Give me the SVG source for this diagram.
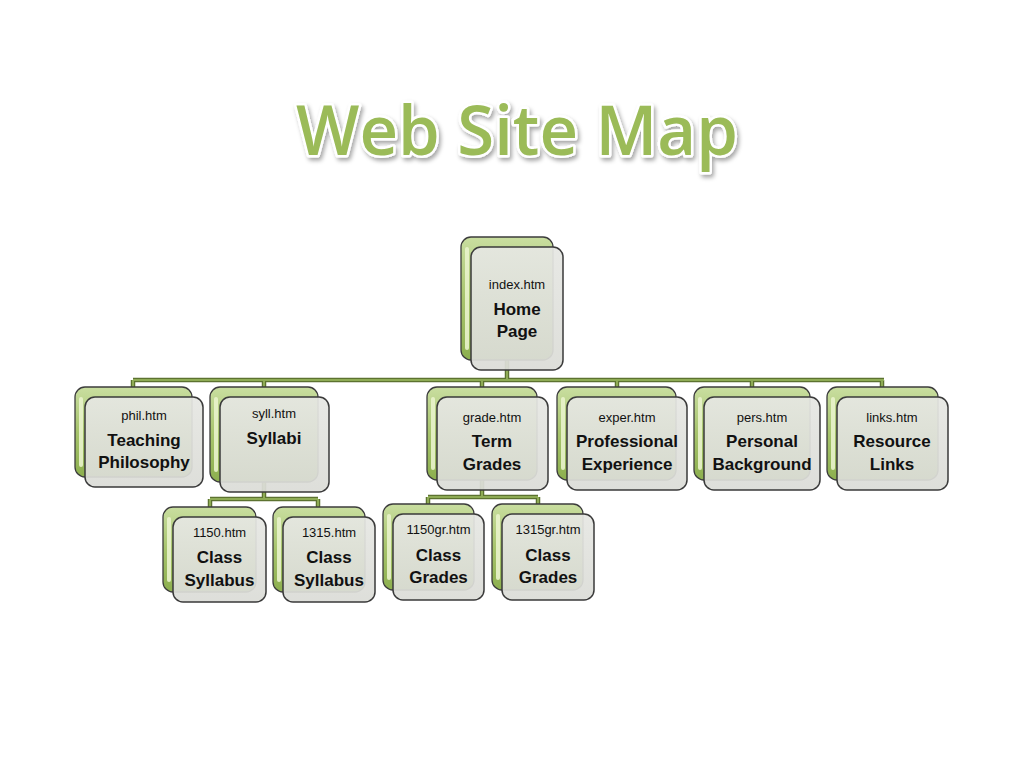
<svg xmlns="http://www.w3.org/2000/svg" width="1024" height="768" viewBox="0 0 1024 768">
<defs>
<linearGradient id="gGreen" x1="0" y1="0" x2="0" y2="1">
<stop offset="0" stop-color="#c9dea0"/>
<stop offset="0.5" stop-color="#a7c46c"/>
<stop offset="1" stop-color="#8caf4e"/>
</linearGradient>
<linearGradient id="gGrey" x1="0" y1="0" x2="0" y2="1">
<stop offset="0" stop-color="#e6e7e3"/>
<stop offset="1" stop-color="#dbdcd7"/>
</linearGradient>
<filter id="shadow" x="-10%" y="-20%" width="120%" height="150%">
<feDropShadow dx="2" dy="3" stdDeviation="2" flood-color="#000" flood-opacity="0.35"/>
</filter>
</defs>
<style>
.back{fill:url(#gGreen);stroke:#3c3c3c;stroke-width:1.3}
.stripe{fill:#e9f3cc;opacity:0.9}
.front{fill:url(#gGrey);fill-opacity:0.93;stroke:#3a3a3a;stroke-width:1.5}
.lnO{fill:none;stroke:#5c7230;stroke-width:4.5}
.lnI{fill:none;stroke:#8eab55;stroke-width:2}
.file{font-family:"Liberation Sans",Arial,sans-serif;font-size:13px;fill:#111;text-anchor:middle}
.name{font-family:"Liberation Sans",Arial,sans-serif;font-size:17px;font-weight:bold;fill:#111;text-anchor:middle}
.title{font-family:"Open Sans","Liberation Sans",sans-serif;font-size:68px;font-weight:600;fill:#9bbb59;stroke:#ffffff;stroke-width:5;paint-order:stroke;stroke-linejoin:round}
</style>
<rect width="1024" height="768" fill="#ffffff"/>
<text class="title" x="517" y="155" text-anchor="middle" textLength="442" lengthAdjust="spacingAndGlyphs" filter="url(#shadow)">Web Site Map</text>

<g id="connectors">
<path class="lnO" d="M507 360V380M133 380H884M133 380V387M264 380V387M482 380V387M617 380V387M752 380V387M882 380V387M264 482V499M210 499H318M210 499V507M318 499V507M482 480V497M428 497H538M428 497V504M538 497V504"/>
<path class="lnI" d="M507 360V380M133 380H884M133 380V387M264 380V387M482 380V387M617 380V387M752 380V387M882 380V387M264 482V499M210 499H318M210 499V507M318 499V507M482 480V497M428 497H538M428 497V504M538 497V504"/>
</g>

<g id="home">
<rect class="back" x="461" y="237" width="92" height="123" rx="10"/>
<rect class="stripe" x="465" y="247" width="4" height="103" rx="2"/>
<rect class="front" x="471" y="247" width="92" height="123" rx="10"/>
<text class="file" x="517" y="289">index.htm</text>
<text class="name" x="517" y="315">Home</text>
<text class="name" x="517" y="337">Page</text>
</g>

<g id="phil">
<rect class="back" x="75" y="387" width="117" height="90" rx="10"/>
<rect class="stripe" x="79" y="397" width="4" height="70" rx="2"/>
<rect class="front" x="85" y="397" width="118" height="90" rx="10"/>
<text class="file" x="144" y="420">phil.htm</text>
<text class="name" x="144" y="446">Teaching</text>
<text class="name" x="144" y="468">Philosophy</text>
</g>

<g id="syll">
<rect class="back" x="210" y="387" width="108" height="95" rx="10"/>
<rect class="stripe" x="214" y="397" width="4" height="75" rx="2"/>
<rect class="front" x="220" y="397" width="109" height="95" rx="10"/>
<text class="file" x="274" y="418">syll.htm</text>
<text class="name" x="274" y="444">Syllabi</text>
</g>

<g id="grade">
<rect class="back" x="427" y="387" width="110" height="93" rx="10"/>
<rect class="stripe" x="431" y="397" width="4" height="73" rx="2"/>
<rect class="front" x="437" y="397" width="111" height="93" rx="10"/>
<text class="file" x="492" y="422">grade.htm</text>
<text class="name" x="492" y="447">Term</text>
<text class="name" x="492" y="470">Grades</text>
</g>

<g id="exper">
<rect class="back" x="557" y="387" width="119" height="93" rx="10"/>
<rect class="stripe" x="561" y="397" width="4" height="73" rx="2"/>
<rect class="front" x="567" y="397" width="120" height="93" rx="10"/>
<text class="file" x="627" y="422">exper.htm</text>
<text class="name" x="627" y="447">Professional</text>
<text class="name" x="627" y="470">Experience</text>
</g>

<g id="pers">
<rect class="back" x="694" y="387" width="116" height="93" rx="10"/>
<rect class="stripe" x="698" y="397" width="4" height="73" rx="2"/>
<rect class="front" x="704" y="397" width="116" height="93" rx="10"/>
<text class="file" x="762" y="422">pers.htm</text>
<text class="name" x="762" y="447">Personal</text>
<text class="name" x="762" y="470">Background</text>
</g>

<g id="links">
<rect class="back" x="827" y="387" width="111" height="93" rx="10"/>
<rect class="stripe" x="831" y="397" width="4" height="73" rx="2"/>
<rect class="front" x="837" y="397" width="111" height="93" rx="10"/>
<text class="file" x="892" y="422">links.htm</text>
<text class="name" x="892" y="447">Resource</text>
<text class="name" x="892" y="470">Links</text>
</g>

<g id="syl1150">
<rect class="back" x="163" y="507" width="93" height="85" rx="10"/>
<rect class="stripe" x="167" y="517" width="4" height="65" rx="2"/>
<rect class="front" x="173" y="517" width="93" height="85" rx="10"/>
<text class="file" x="219.5" y="537">1150.htm</text>
<text class="name" x="219.5" y="563">Class</text>
<text class="name" x="219.5" y="586">Syllabus</text>
</g>

<g id="syl1315">
<rect class="back" x="273" y="507" width="92" height="85" rx="10"/>
<rect class="stripe" x="277" y="517" width="4" height="65" rx="2"/>
<rect class="front" x="283" y="517" width="92" height="85" rx="10"/>
<text class="file" x="329" y="537">1315.htm</text>
<text class="name" x="329" y="563">Class</text>
<text class="name" x="329" y="586">Syllabus</text>
</g>

<g id="gr1150">
<rect class="back" x="383" y="504" width="91" height="86" rx="10"/>
<rect class="stripe" x="387" y="514" width="4" height="66" rx="2"/>
<rect class="front" x="393" y="514" width="91" height="86" rx="10"/>
<text class="file" x="438.5" y="534">1150gr.htm</text>
<text class="name" x="438.5" y="561">Class</text>
<text class="name" x="438.5" y="583">Grades</text>
</g>

<g id="gr1315">
<rect class="back" x="492" y="504" width="91" height="86" rx="10"/>
<rect class="stripe" x="496" y="514" width="4" height="66" rx="2"/>
<rect class="front" x="502" y="514" width="92" height="86" rx="10"/>
<text class="file" x="548" y="534">1315gr.htm</text>
<text class="name" x="548" y="561">Class</text>
<text class="name" x="548" y="583">Grades</text>
</g>
</svg>
